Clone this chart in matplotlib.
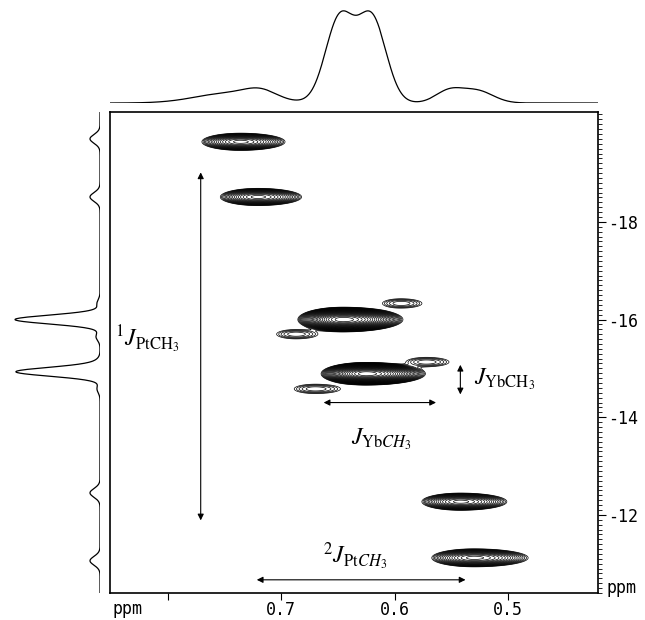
import numpy as np
import matplotlib.pyplot as plt
from matplotlib.ticker import MultipleLocator

plt.rcParams['font.family'] = 'DejaVu Sans Mono'
plt.rcParams['axes.unicode_minus'] = False
plt.rcParams['mathtext.fontset'] = 'stix'

# 2D cross peaks: f2 (ppm), f1 (ppm), intensity, widths (left / right of centre in f2, f1)
peak_f2 = [0.736, 0.7206, 0.6455, 0.5944, 0.687, 0.625, 0.572, 0.670, 0.542, 0.530]
peak_f1 = [-19.64, -18.51, -16.00, -16.33, -15.70, -14.89, -15.13, -14.58, -12.27, -11.12]
peak_amp = [40, 40, 500, 3, 3, 500, 3, 3, 40, 40]
peak_wl = [0.0125, 0.0122, 0.0113, 0.0110, 0.0115, 0.0113, 0.0120, 0.0125, 0.0125, 0.0137]
peak_wr = [0.0145, 0.0142, 0.0150, 0.0125, 0.0130, 0.0148, 0.0135, 0.0150, 0.0151, 0.0176]
peak_wy = [0.065, 0.065, 0.072, 0.065, 0.065, 0.066, 0.065, 0.065, 0.065, 0.068]

# f2 projection (top trace)
top_pos = [0.745, 0.718, 0.6485, 0.6200, 0.552, 0.527]
top_hgt = [10, 8, 84, 84, 12, 12]
top_wid = [0.030, 0.014, 0.0125, 0.0125, 0.012, 0.014]

# f1 projection (left trace)
left_pos = [-19.70, -18.51, -16.00, -14.93, -12.45, -11.06, -16.33, -15.65, -15.13, -14.58]
left_hgt = [10, 10, 85, 84, 10, 10, 3, 4, 3, 3]
left_wid = [0.09, 0.09, 0.09, 0.09, 0.09, 0.09, 0.08, 0.08, 0.08, 0.08]

W, H = 645, 620


def box(l, t, r, b):
    return [l / W, 1 - b / H, (r - l) / W, (b - t) / H]


fig = plt.figure(figsize=(W / 100, H / 100), dpi=100)

# 主图：等高线
ax = fig.add_axes(box(110, 112, 598, 593))
xg = np.linspace(0.4206, 0.851, 900)
yg = np.linspace(-20.25, -10.40, 900)
X, Y = np.meshgrid(xg, yg)
Z = np.zeros_like(X)
for x0, y0, a, wl, wr, wy in zip(peak_f2, peak_f1, peak_amp, peak_wl, peak_wr, peak_wy):
    dx = X - x0
    wx = np.where(dx > 0, wl, wr)
    Z += a * np.exp(-0.5 * (dx / wx) ** 2 - 0.5 * ((Y - y0) / wy) ** 2)
levels = 1.25 ** np.arange(0, 30)
ax.contour(X, Y, Z, levels=levels, colors='k', linewidths=0.5)
ax.set_xlim(0.851, 0.4206)
ax.set_ylim(-10.40, -20.25)

ax.yaxis.tick_right()
ax.set_yticks([-18, -16, -14, -12])
ax.set_yticklabels(['-18', '-16', '-14', '-12'])
ax.yaxis.set_minor_locator(MultipleLocator(0.1))
ax.tick_params(axis='y', which='major', length=6, width=0.8, labelsize=12, pad=1)
ax.tick_params(axis='y', which='minor', length=3, width=0.6)
ax.set_xticks([0.8, 0.7, 0.6, 0.5])
ax.set_xticklabels(['', '0.7', '0.6', '0.5'])
ax.tick_params(axis='x', which='major', length=5, width=0.8, labelsize=12, pad=1)
for s in ax.spines.values():
    s.set_linewidth(1.2)

# annotations
arrow = dict(arrowstyle='<|-|>', color='k', lw=0.8, mutation_scale=9)
ax.annotate('', xy=(0.771, -19.07), xytext=(0.771, -11.83), arrowprops=arrow)
ax.annotate('', xy=(0.724, -10.67), xytext=(0.535, -10.67), arrowprops=arrow)
ax.annotate('', xy=(0.665, -14.30), xytext=(0.561, -14.30), arrowprops=arrow)
ax.annotate('', xy=(0.542, -15.13), xytext=(0.542, -14.41), arrowprops=arrow)

ax.text(0.847, -15.6, r'$^1J_{\mathrm{PtCH}_3}$', fontsize=17, ha='left', va='center')
ax.text(0.530, -14.78, r'$J_{\mathrm{YbCH}_3}$', fontsize=17, ha='left', va='center')
ax.text(0.612, -13.55, r'$J_{\mathrm{Yb}CH_3}$', fontsize=17, ha='center', va='center')
ax.text(0.635, -11.15, r'$^2J_{\mathrm{Pt}CH_3}$', fontsize=17, ha='center', va='center')

fig.text(112 / W, 1 - 609 / H, 'ppm', fontsize=12, ha='left', va='center')
fig.text(607 / W, 1 - 588 / H, 'ppm', fontsize=12, ha='left', va='center')

# 顶部投影
axt = fig.add_axes(box(110, 8, 598, 103))
xs = np.linspace(0.4206, 0.851, 1200)
top = np.zeros_like(xs)
for p, h, w in zip(top_pos, top_hgt, top_wid):
    top += h * np.exp(-0.5 * ((xs - p) / w) ** 2)
axt.plot(xs, top, color='k', lw=0.9)
axt.set_xlim(0.851, 0.4206)
axt.set_ylim(0, 95)
axt.axis('off')

# 左侧投影
axl = fig.add_axes(box(10, 112, 100, 593))
ys = np.linspace(-20.25, -10.40, 1500)
left = np.zeros_like(ys)
for p, h, w in zip(left_pos, left_hgt, left_wid):
    left += h * np.exp(-0.5 * ((ys - p) / w) ** 2)
axl.plot(left, ys, color='k', lw=0.9)
axl.set_xlim(90, 0)
axl.set_ylim(-10.40, -20.25)
axl.axis('off')

fig.savefig('out.png', dpi=100)
